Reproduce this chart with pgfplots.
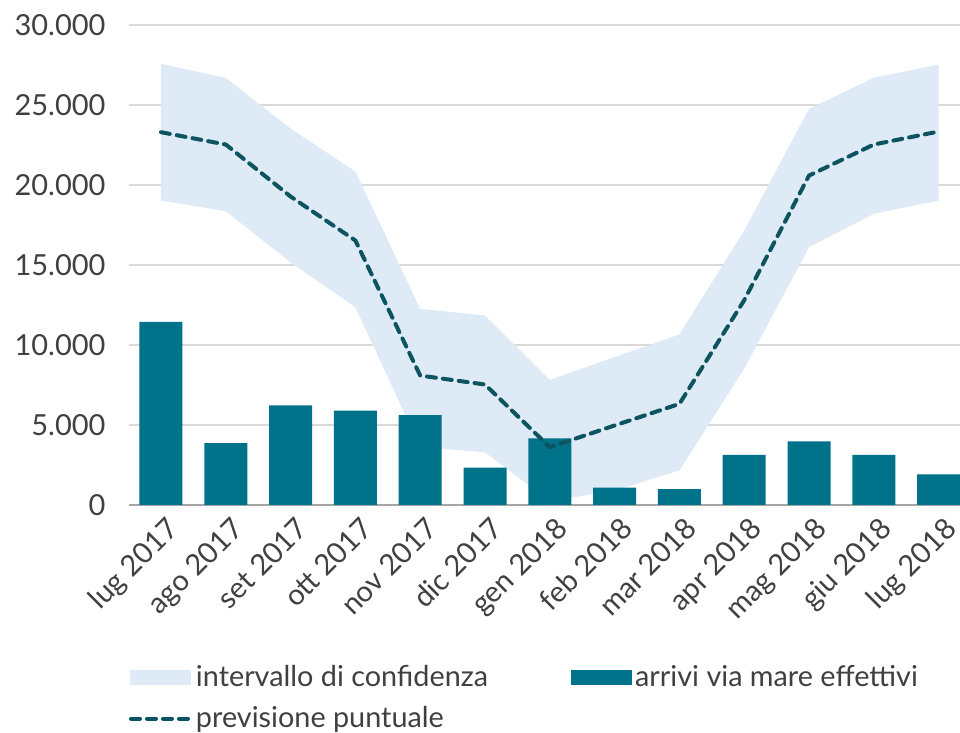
\documentclass[border=0pt]{standalone}
\usepackage{fontspec}
\setmainfont{Lato}
\usepackage{pgfplots}
\pgfplotsset{compat=1.18}
\definecolor{bandc}{RGB}{222,234,246}
\definecolor{barc}{RGB}{0,114,138}
\definecolor{linec}{RGB}{12,84,96}
\definecolor{gridc}{RGB}{217,217,217}
\definecolor{axisc}{RGB}{165,165,165}
\definecolor{txtc}{RGB}{64,64,64}

\begin{document}
\begin{tikzpicture}
\begin{axis}[
  at={(0,0)}, anchor=south west,
  scale only axis, width=415.7pt, height=240pt,
  xmin=-0.5, xmax=12.33, ymin=0, ymax=30000,
  xtick={0,...,12},
  xticklabels={lug 2017,ago 2017,set 2017,ott 2017,nov 2017,dic 2017,gen 2018,feb 2018,mar 2018,apr 2018,mag 2018,giu 2018,lug 2018},
  ytick={0,5000,...,30000},
  scaled y ticks=false,
  /pgf/number format/1000 sep={.},
  /pgf/number format/assume math mode=true,
  ymajorgrids, grid style={gridc, line width=0.9pt},
  axis x line*=bottom, axis y line*=left,
  y axis line style={draw=none},
  x axis line style={axisc, line width=1pt, -},
  major tick length=0pt, tick style={draw=none},
  ticklabel style={font=\fontsize{14.5}{17}\selectfont, text=txtc},
  yticklabel style={xshift=-8pt},
  xticklabel style={rotate=45, anchor=north east, inner sep=2pt, yshift=-3pt},
  legend columns=2,
  legend cell align=left,
  legend style={at={(0,-0.327)}, anchor=north west, draw=none, fill=none,
    inner sep=0pt, font=\fontsize{14.4}{17}\selectfont, text=txtc,
    row sep=5.5pt,
    nodes={inner sep=1.5pt},
    /tikz/every even column/.append style={column sep=40pt}},
]
% confidence band: upper edge then lower edge reversed
\addplot[fill=bandc, draw=none,
  legend image code/.code={\fill[bandc] (0pt,-3.8pt) rectangle (30.5pt,3.8pt);}]
  coordinates {
  (0,27575) (1,26700) (2,23530) (3,20840) (4,12260) (5,11840) (6,7825)
  (7,9240) (8,10660) (9,17150) (10,24760) (11,26700) (12,27530)
  (12,19030) (11,18200) (10,16110) (9,8530) (8,2160) (7,900) (6,240)
  (5,3300) (4,3610) (3,12360) (2,15160) (1,18360) (0,19030)};
\addlegendentry{intervallo di confidenza}

\addplot[ybar, bar width=21.5pt, fill=barc, draw=none,
  legend image code/.code={\fill[barc] (0pt,-3.8pt) rectangle (30.5pt,3.8pt);}]
  coordinates {
  (0,11450) (1,3860) (2,6220) (3,5900) (4,5610) (5,2330) (6,4170)
  (7,1090) (8,990) (9,3140) (10,3970) (11,3140) (12,1910)};
\addlegendentry{arrivi via mare effettivi}

\addplot[linec, line width=2pt, line cap=round, line join=round,
  dash pattern=on 4.5pt off 3.5pt,
  legend image code/.code={\draw[linec, line width=2pt, line cap=round, dash pattern=on 4.5pt off 3.5pt] (0.5pt,0pt) -- (30.5pt,0pt);}]
  coordinates {
  (0,23300) (1,22530) (2,19280) (3,16530) (4,8090) (5,7530) (6,3610)
  (7,4970) (8,6320) (9,12800) (10,20590) (11,22530) (12,23340)};
\addlegendentry{previsione puntuale}
\end{axis}
\pgfresetboundingbox
\path[use as bounding box] (-64.3pt,-114pt) rectangle (415.7pt,252.5pt);
\end{tikzpicture}
\end{document}
